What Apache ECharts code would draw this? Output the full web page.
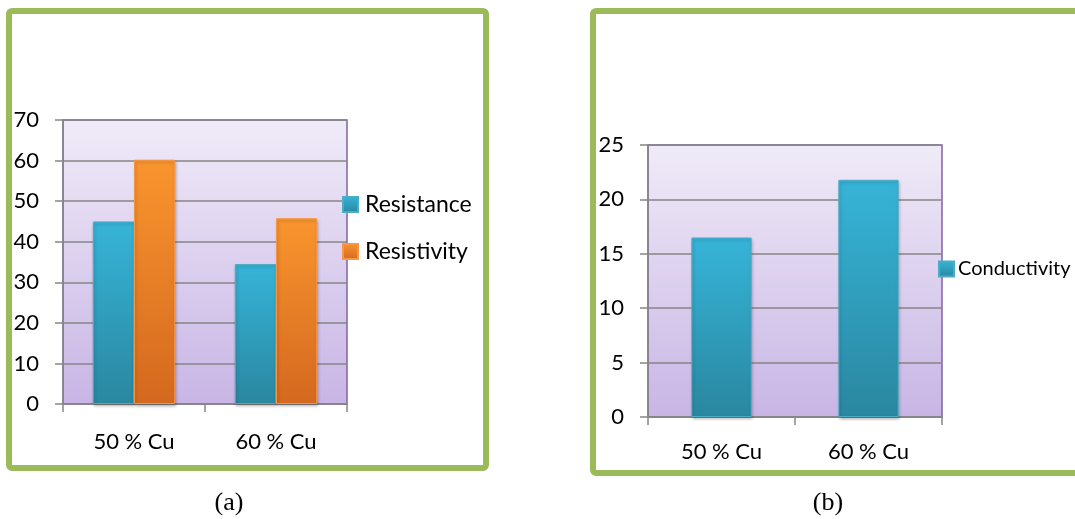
<!DOCTYPE html>
<html>
<head>
<meta charset="utf-8">
<script src="https://cdn.jsdelivr.net/npm/echarts@6/dist/echarts.min.js"></script>
<style>
  html, body { margin: 0; padding: 0; background: #fff; }
  #main { width: 1075px; height: 519px; }
</style>
</head>
<body>
<div id="main"></div>
<script>
// chart (a)
var catsA = ['50 % Cu', '60 % Cu'];
var resistance = [45, 34.5];
var resistivity = [60.2, 45.8];
// chart (b)
var catsB = ['50 % Cu', '60 % Cu'];
var conductivity = [16.5, 21.8];

var fontFam = 'Lato, "Open Sans", sans-serif';

function vGrad(top, bottom) {
    return new echarts.graphic.LinearGradient(0, 0, 0, 1, [
        { offset: 0, color: top },
        { offset: 1, color: bottom }
    ]);
}

var blueFill = vGrad('#36b4d8', '#2a87a0');
var orangeFill = vGrad('#f9952e', '#d4681f');
var plotBg = vGrad('#f0ebf8', '#c8b5e5');

var chart = echarts.init(document.getElementById('main'));

var yAxisCommon = {
    type: 'value',
    min: 0,
    axisLine: { show: true, lineStyle: { color: '#868686', width: 1.5 } },
    axisTick: { show: true, length: 8, lineStyle: { color: '#868686', width: 1.5 } },
    axisLabel: { color: '#000', fontSize: 22, fontFamily: fontFam, margin: 24 },
    splitLine: { show: true, lineStyle: { color: '#868686', width: 1.5 } }
};

var xAxisCommon = {
    type: 'category',
    axisLine: { show: true, lineStyle: { color: '#868686', width: 1.5 } },
    axisTick: { show: true, length: 8, lineStyle: { color: '#868686', width: 1.5 } },
    axisLabel: { color: '#000', fontSize: 22, fontFamily: fontFam },
    splitLine: { show: false }
};

var option = {
    animation: false,
    backgroundColor: '#fff',
    grid: [
        {
            left: 63, top: 120, width: 284, height: 284,
            show: true, backgroundColor: plotBg,
            borderColor: '#8064a2', borderWidth: 1.5
        },
        {
            left: 648, top: 145, width: 294, height: 272,
            show: true, backgroundColor: plotBg,
            borderColor: '#8064a2', borderWidth: 1.5
        }
    ],
    xAxis: [
        Object.assign({}, xAxisCommon, { gridIndex: 0, data: catsA,
            axisLabel: Object.assign({}, xAxisCommon.axisLabel, { margin: 27 }) }),
        Object.assign({}, xAxisCommon, { gridIndex: 1, data: catsB,
            axisLabel: Object.assign({}, xAxisCommon.axisLabel, { margin: 24 }) })
    ],
    yAxis: [
        Object.assign({}, yAxisCommon, { gridIndex: 0, max: 70, interval: 10 }),
        Object.assign({}, yAxisCommon, { gridIndex: 1, max: 25, interval: 5 })
    ],
    legend: [
        {
            data: ['Resistance', 'Resistivity'],
            orient: 'vertical',
            left: 337, top: 188,
            itemWidth: 15, itemHeight: 15, itemGap: 24,
            icon: 'rect',
            textStyle: { color: '#000', fontSize: 23, fontFamily: fontFam, padding: [0, 0, 0, 2] }
        },
        {
            data: ['Conductivity'],
            orient: 'vertical',
            left: 933, top: 254,
            itemWidth: 15, itemHeight: 15,
            icon: 'rect',
            textStyle: { color: '#000', fontSize: 20, fontFamily: fontFam, padding: [0, 0, 0, -1] }
        }
    ],
    series: [
        {
            name: 'Resistance', type: 'bar', xAxisIndex: 0, yAxisIndex: 0,
            data: resistance, barGap: '0%', barCategoryGap: '42%',
            itemStyle: { color: blueFill, borderColor: '#4bacc6', borderWidth: 1,
                shadowColor: 'rgba(0,0,0,0.25)', shadowBlur: 3, shadowOffsetX: 1, shadowOffsetY: 2 }
        },
        {
            name: 'Resistivity', type: 'bar', xAxisIndex: 0, yAxisIndex: 0,
            data: resistivity, barGap: '0%', barCategoryGap: '42%',
            itemStyle: { color: orangeFill, borderColor: '#f79646', borderWidth: 1,
                shadowColor: 'rgba(0,0,0,0.25)', shadowBlur: 3, shadowOffsetX: 1, shadowOffsetY: 2 }
        },
        {
            name: 'Conductivity', type: 'bar', xAxisIndex: 1, yAxisIndex: 1,
            data: conductivity, barCategoryGap: '59%',
            itemStyle: { color: blueFill, borderColor: '#4bacc6', borderWidth: 1,
                shadowColor: 'rgba(0,0,0,0.25)', shadowBlur: 3, shadowOffsetX: 1, shadowOffsetY: 2 }
        }
    ],
    graphic: [
        {
            type: 'rect', z: 100,
            shape: { x: 9, y: 11, width: 477, height: 457, r: 3 },
            style: { fill: 'none', stroke: '#9bbb59', lineWidth: 6 }
        },
        {
            type: 'rect', z: 100,
            shape: { x: 593, y: 11, width: 500, height: 462, r: 3 },
            style: { fill: 'none', stroke: '#9bbb59', lineWidth: 6 }
        },
        {
            type: 'text', x: 229, y: 503,
            style: { text: '(a)', fill: '#000', font: '26px "Liberation Serif", serif',
                align: 'center', verticalAlign: 'middle' }
        },
        {
            type: 'text', x: 828, y: 503,
            style: { text: '(b)', fill: '#000', font: '26px "Liberation Serif", serif',
                align: 'center', verticalAlign: 'middle' }
        }
    ]
};

chart.setOption(option);
</script>
</body>
</html>
